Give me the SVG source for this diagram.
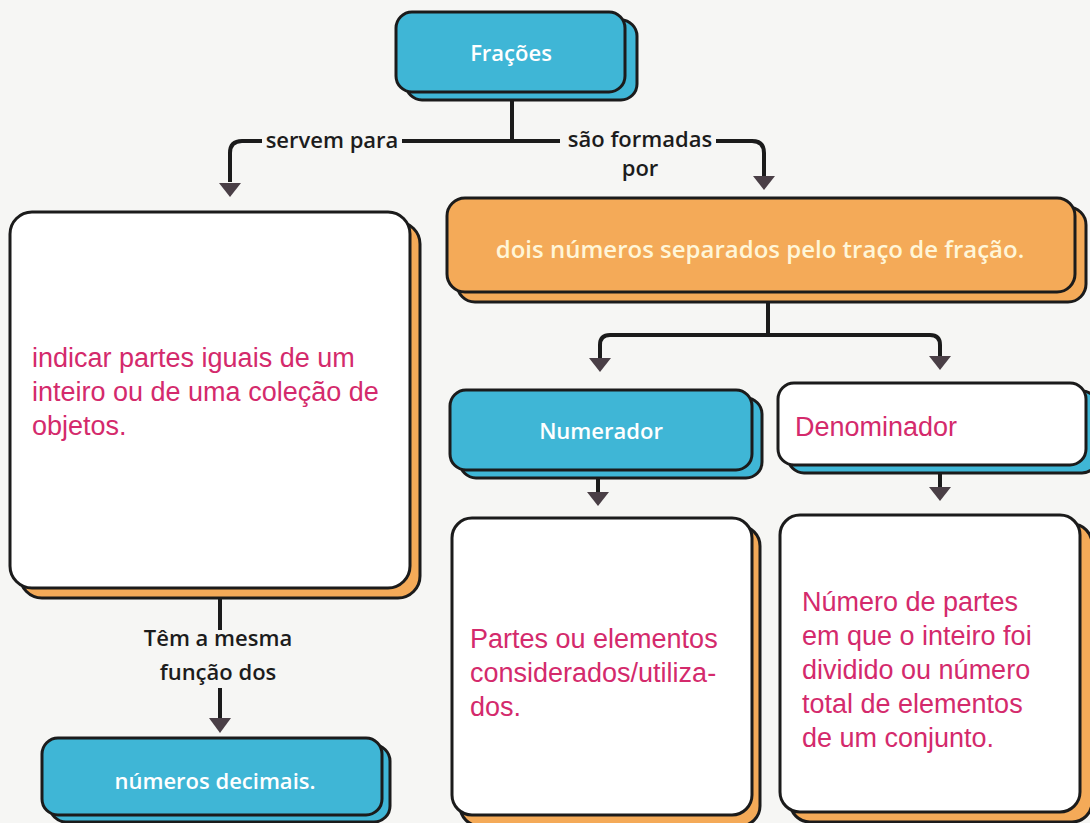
<svg xmlns="http://www.w3.org/2000/svg" width="1090" height="823" viewBox="0 0 1090 823">
<defs>
<style>
.bg{fill:#f6f6f4}
.blue{fill:#3fb6d6;stroke:#1b1b1b;stroke-width:3}
.orange{fill:#f4aa58;stroke:#1b1b1b;stroke-width:3}
.white{fill:#ffffff;stroke:#1b1b1b;stroke-width:3}
.lbl{font-family:"Open Sans","Liberation Sans",sans-serif;font-weight:600;font-size:22px;fill:#1c1c1c}
.wt{font-family:"Open Sans","Liberation Sans",sans-serif;font-weight:600;font-size:22px;fill:#ffffff}
.ct{font-family:"Open Sans","Liberation Sans",sans-serif;font-weight:600;font-size:24px;fill:#fff6d8}
.pk{font-family:"Liberation Sans",Arial,sans-serif;font-size:27px;fill:#d42a6c}
.ln{fill:none;stroke:#1b1b1b;stroke-width:4}
.ah{fill:#4a3f46}
</style>
</defs>
<rect class="bg" x="0" y="0" width="1090" height="823"/>

<g id="connectors">
<path class="ln" d="M512,100 V141"/>
<path class="ln" d="M402,141 H560"/>
<path class="ln" d="M262,141 H242 Q230,141 230,153 V182"/>
<path class="ln" d="M716,141 H752 Q764,141 764,153 V176"/>
<path class="ln" d="M768,302 V335"/>
<path class="ln" d="M610,335 H930 Q940,335 940,345 V356"/>
<path class="ln" d="M768,335 H610 Q600,335 600,345 V358"/>
<path class="ln" d="M598,478 V492"/>
<path class="ln" d="M940,473 V487"/>
<path class="ln" d="M220,598 V630"/>
<path class="ln" d="M220,688 V718"/>
<polygon class="ah" points="219,183 241,183 230,197"/>
<polygon class="ah" points="753,176 775,176 764,190"/>
<polygon class="ah" points="589,358 611,358 600,372"/>
<polygon class="ah" points="929,356 951,356 940,370"/>
<polygon class="ah" points="587,492 609,492 598,506"/>
<polygon class="ah" points="929,487 951,487 940,501"/>
<polygon class="ah" points="209,718 231,718 220,733"/>
</g>

<g id="labels">
<text class="lbl" x="332" y="148" text-anchor="middle">servem para</text>
<text class="lbl" x="640" y="147" text-anchor="middle">são formadas</text>
<text class="lbl" x="640" y="176" text-anchor="middle">por</text>
<text class="lbl" x="218" y="646" text-anchor="middle">Têm a mesma</text>
<text class="lbl" x="218" y="680" text-anchor="middle">função dos</text>
</g>

<g id="fracoes">
<rect class="blue" x="406" y="20" width="231" height="80" rx="16"/>
<rect class="blue" x="396" y="12" width="229" height="80" rx="16"/>
<text class="wt" x="511" y="61" text-anchor="middle">Frações</text>
</g>

<g id="indicar">
<rect class="orange" x="20" y="222" width="400" height="376" rx="22"/>
<rect class="white" x="10" y="212" width="400" height="376" rx="22"/>
<text class="pk"><tspan x="32" y="367">indicar partes iguais de um</tspan><tspan x="32" y="401">inteiro ou de uma coleção de</tspan><tspan x="32" y="435">objetos.</tspan></text>
</g>

<g id="decimais">
<rect class="blue" x="50" y="745" width="340" height="77" rx="16"/>
<rect class="blue" x="42" y="738" width="340" height="77" rx="16"/>
<text class="wt" x="215" y="789" text-anchor="middle">números decimais.</text>
</g>

<g id="dois">
<rect class="orange" x="457" y="207" width="629" height="95" rx="18"/>
<rect class="orange" x="447" y="198" width="628" height="94" rx="18"/>
<text class="ct" x="760" y="258" text-anchor="middle">dois números separados pelo traço de fração.</text>
</g>

<g id="numerador">
<rect class="blue" x="460" y="398" width="302" height="80" rx="16"/>
<rect class="blue" x="450" y="390" width="302" height="80" rx="16"/>
<text class="wt" x="601" y="439" text-anchor="middle">Numerador</text>
</g>

<g id="denominador">
<rect class="blue" x="788" y="391" width="310" height="82" rx="16"/>
<rect class="white" x="778" y="383" width="308" height="82" rx="16"/>
<text class="pk" x="795" y="436">Denominador</text>
</g>

<g id="partes">
<rect class="orange" x="460" y="526" width="300" height="300" rx="20"/>
<rect class="white" x="452" y="518" width="300" height="297" rx="20"/>
<text class="pk"><tspan x="470" y="648">Partes ou elementos</tspan><tspan x="470" y="682">considerados/utiliza-</tspan><tspan x="470" y="716">dos.</tspan></text>
</g>

<g id="numero">
<rect class="orange" x="790" y="524" width="302" height="298" rx="20"/>
<rect class="white" x="780" y="515" width="300" height="297" rx="20"/>
<text class="pk"><tspan x="802" y="611">Número de partes</tspan><tspan x="802" y="645">em que o inteiro foi</tspan><tspan x="802" y="679">dividido ou número</tspan><tspan x="802" y="713">total de elementos</tspan><tspan x="802" y="747">de um conjunto.</tspan></text>
</g>
</svg>
